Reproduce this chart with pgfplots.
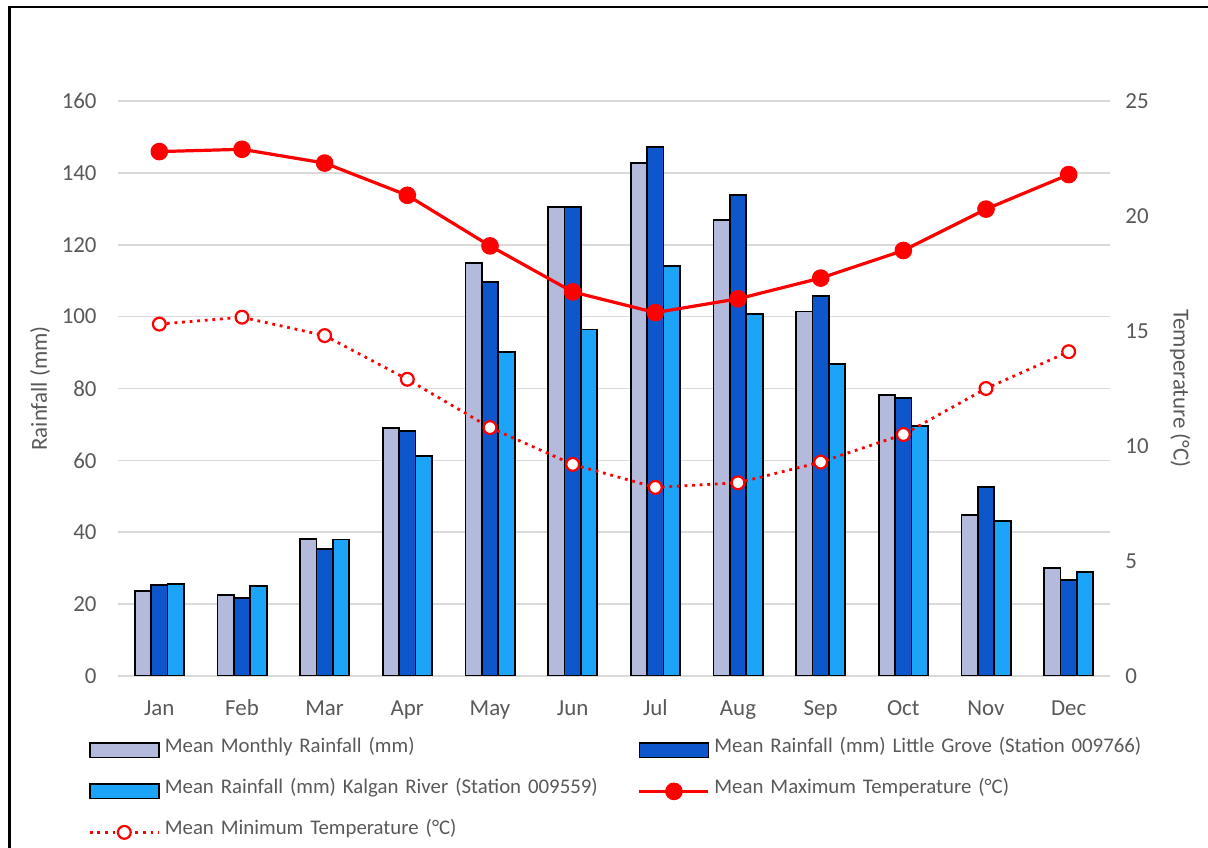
\documentclass[border=0pt]{standalone}
\usepackage{pgfplots}
\pgfplotsset{compat=1.18}
\usepackage{pgfplotstable}
\usepackage{fontspec}
\setmainfont{Carlito}
\definecolor{lav}{RGB}{180,186,219}
\definecolor{dblue}{RGB}{13,86,203}
\definecolor{cyanb}{RGB}{28,164,248}
\definecolor{txt}{RGB}{89,89,89}
\definecolor{grd}{RGB}{217,217,217}
\definecolor{tred}{RGB}{255,0,0}

\pgfplotstableread{
x monthly grove kalgan tmax tmin
0 23.7 25.4 25.5 22.8 15.3
1 22.6 21.6 25.0 22.9 15.6
2 38.2 35.3 38.0 22.3 14.8
3 69.0 68.1 61.3 20.9 12.9
4 115.0 109.6 90.2 18.7 10.8
5 130.6 130.6 96.4 16.7 9.2
6 142.7 147.2 114.0 15.8 8.2
7 126.8 133.8 100.8 16.4 8.4
8 101.4 105.8 86.8 17.3 9.3
9 78.2 77.4 69.5 18.5 10.5
10 44.7 52.6 43.1 20.3 12.5
11 30.0 26.8 28.9 21.8 14.1
}\data

\pgfplotsset{
  common/.style={
    at={(59bp,86bp)}, anchor=south west, scale only axis,
    width=496bp, height=287.5bp,
    xmin=-0.5, xmax=11.5,
    axis line style={draw=none},
    major tick length=0pt,
    tick label style={font=\fontsize{11.5}{13}\selectfont, text=txt, inner sep=0pt},
    /pgf/number format/assume math mode=true,
  },
  barleg/.style={legend image code/.code={\path[draw=none,fill=none] (0bp,0bp) -- (37.5bp,0bp);\draw[##1] (0bp,-3.6bp) rectangle (34.5bp,3.6bp);}},
  lineleg/.style={legend image code/.code={\path[draw=none,fill=none] (0bp,0bp) -- (37.5bp,0bp);\draw[mark repeat=2, mark phase=2, ##1] plot coordinates {(0bp,0bp) (17.25bp,0bp) (34.5bp,0bp)};}},
}

\begin{document}
\begin{tikzpicture}
\path[use as bounding box] (0,0) rectangle (604bp,424bp);
\draw[line width=1.2bp] (4.75bp,0) -- (4.75bp,420.5bp) -- (604bp,420.5bp);
\begin{axis}[common,
  ymin=0, ymax=160, ytick={0,20,...,160},
  ymajorgrids, grid style={grd, line width=0.8bp},
  xtick={0,...,11},
  xticklabels={Jan,Feb,Mar,Apr,May,Jun,Jul,Aug,Sep,Oct,Nov,Dec},
  xticklabel style={anchor=base, yshift=-20bp},
  yticklabel style={anchor=east, xshift=-10.5bp},
  ybar=0pt, bar width=8.2bp,
  every axis plot/.append style={draw=black, line width=0.9bp},
  ylabel={Rainfall (mm)},
  every axis y label/.style={at={(axis description cs:-0.0786,0.5)}, rotate=90, anchor=center,
    font=\fontsize{11.5}{13}\selectfont, text=txt},
]
\addplot[fill=lav] table[x=x,y=monthly]{\data};
\addplot[fill=dblue] table[x=x,y=grove]{\data};
\addplot[fill=cyanb] table[x=x,y=kalgan]{\data};
\end{axis}
\begin{axis}[common,
  ymin=0, ymax=25, ytick={0,5,...,25},
  axis y line*=right, axis x line=none,
  yticklabel style={anchor=west, xshift=7.5bp},
  ylabel={Temperature (°C)},
  every axis y label/.style={at={(axis description cs:1.0706,0.5)}, rotate=-90, anchor=center,
    font=\fontsize{11.5}{13}\selectfont, text=txt},
  legend columns=2,
  legend style={at={(axis description cs:-0.0302,-0.0930)}, anchor=north west,
    draw=none, fill=none, inner sep=0pt, font=\fontsize{10.45}{12}\selectfont, text=txt,
    nodes={inner sep=0pt, text width=236.5bp, align=left, text height=11.25bp, text depth=9.25bp},
    /tikz/every odd column/.append style={column sep=0bp}},
  legend cell align=left,
]
\addlegendimage{barleg, fill=lav, draw=black, line width=0.9bp}
\addlegendentry{Mean Monthly Rainfall (mm)}
\addlegendimage{barleg, fill=dblue, draw=black, line width=0.9bp}
\addlegendentry{Mean Rainfall (mm) Little Grove (Station 009766)}
\addlegendimage{barleg, fill=cyanb, draw=black, line width=0.9bp}
\addlegendentry{Mean Rainfall (mm) Kalgan River (Station 009559)}
\addplot[lineleg, tred, line width=1.6bp, mark=*, mark size=3.6bp, mark options={fill=tred, draw=tred, solid}]
  table[x=x,y=tmax]{\data};
\addlegendentry{Mean Maximum Temperature (°C)}
\addplot[lineleg, tred, line width=1.4bp, dash pattern=on 1.4bp off 2.4bp, mark=*, mark size=3.2bp, mark options={fill=white, draw=tred, solid, line width=1.1bp}]
  table[x=x,y=tmin]{\data};
\addlegendentry{Mean Minimum Temperature (°C)}
\end{axis}
\end{tikzpicture}
\end{document}
